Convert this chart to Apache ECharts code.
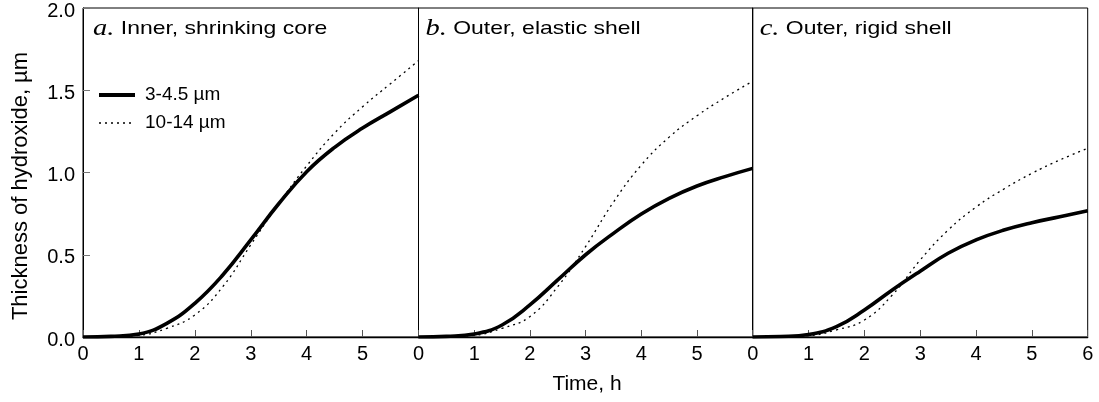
<!DOCTYPE html>
<html>
<head>
<meta charset="utf-8">
<script src="https://cdn.jsdelivr.net/npm/echarts@6/dist/echarts.min.js"></script>
<style>
html,body{margin:0;padding:0;background:#fff;}
#chart{width:1099px;height:402px;}
</style>
</head>
<body>
<div id="chart"></div>
<script>
// ---- data ----
var times = [0, 0.5, 1, 1.5, 2, 2.5, 3, 3.5, 4, 4.5, 5, 5.5, 6];
var seriesNames = ['3-4.5 µm', '10-14 µm'];
var panelTitles = [['a.', 'Inner, shrinking core'], ['b.', 'Outer, elastic shell'], ['c.', 'Outer, rigid shell']];
var xTickLabels = ['0', '1', '2', '3', '4', '5', '6'];
var yTickLabels = ['0.0', '0.5', '1.0', '1.5', '2.0'];
var aSmall = [0, 0.004, 0.018, 0.083, 0.205, 0.377, 0.59, 0.81, 1.005, 1.153, 1.27, 1.37, 1.47];
var aLarge = [0, 0.002, 0.010, 0.053, 0.134, 0.306, 0.56, 0.81, 1.04, 1.24, 1.40, 1.54, 1.68];
var bSmall = [0, 0.004, 0.018, 0.073, 0.195, 0.347, 0.50, 0.63, 0.748, 0.843, 0.918, 0.975, 1.025];
var bLarge = [0, 0.002, 0.010, 0.053, 0.124, 0.306, 0.55, 0.82, 1.045, 1.215, 1.345, 1.455, 1.555];
var cSmall = [0, 0.003, 0.015, 0.063, 0.164, 0.286, 0.40, 0.509, 0.59, 0.65, 0.695, 0.731, 0.768];
var cLarge = [0, 0.002, 0.008, 0.043, 0.103, 0.255, 0.468, 0.65, 0.79, 0.90, 0.995, 1.076, 1.147];
var yTitle = 'Thickness of hydroxide, µm';
var xTitle = 'Time, h';

// ---- build ----
function pairs(vals) { return times.map(function (t, i) { return [t, vals[i]]; }); }
var panels = [[aSmall, aLarge], [bSmall, bLarge], [cSmall, cLarge]];
var FONT = '"Liberation Sans", Arial, Helvetica, sans-serif';
var gridDefs = [
  {left: 83, width: 335.5},
  {left: 418.5, width: 334.2},
  {left: 752.7, width: 335}
];
var SOLID = {color: '#000', width: 3.6};
var DOTTED = {color: '#000', width: 1.3, type: [2, 4]};
var grids = [], xAxes = [], yAxes = [], series = [], graphics = [];
gridDefs.forEach(function (g, i) {
  grids.push({left: g.left, top: 8, width: g.width, height: 329, show: true,
    borderColor: '#000', borderWidth: 1, backgroundColor: 'transparent', containLabel: false});
  xAxes.push({
    type: 'value', gridIndex: i, min: 0, max: 6, interval: 1,
    axisLine: {show: true, lineStyle: {color: '#000', width: 1.3}},
    axisTick: {show: true, inside: true, length: 7, lineStyle: {color: '#555', width: 1}},
    axisLabel: {
      show: true, margin: 7, fontSize: 20, color: '#000', fontFamily: FONT,
      showMaxLabel: i === 2, showMinLabel: true,
      formatter: function (v) { return xTickLabels[Math.round(v)]; }
    },
    splitLine: {show: false}
  });
  yAxes.push({
    type: 'value', gridIndex: i, min: 0, max: 2, interval: 0.5,
    axisLine: {show: true, lineStyle: {color: '#000', width: 1}},
    axisTick: {show: i === 0, inside: true, length: 7, lineStyle: {color: '#777', width: 1}},
    axisLabel: {
      show: i === 0, margin: 8, fontSize: 20, color: '#000', fontFamily: FONT,
      formatter: function (v) { return '{p|' + yTickLabels[Math.round(v * 2)] + '}'; },
      rich: {p: {fontSize: 20, fontFamily: FONT, color: '#000', padding: [6, 0, 0, 0]}}
    },
    splitLine: {show: false}
  });
  series.push({
    name: seriesNames[0], type: 'line', xAxisIndex: i, yAxisIndex: i,
    data: pairs(panels[i][0]), smooth: 0.45, symbol: 'none', showSymbol: false,
    lineStyle: SOLID, itemStyle: {color: '#000'}, z: 3
  });
  series.push({
    name: seriesNames[1], type: 'line', xAxisIndex: i, yAxisIndex: i,
    data: pairs(panels[i][1]), smooth: 0.45, symbol: 'none', showSymbol: false,
    lineStyle: DOTTED, itemStyle: {color: '#000'}, z: 2
  });
  graphics.push({
    type: 'text', x: g.left + (i === 0 ? 10 : 7), y: 29, scaleX: 1.24, scaleY: 1,
    style: {
      text: '{i|' + panelTitles[i][0] + '} ' + panelTitles[i][1],
      font: '18.5px ' + FONT, fill: '#000', textAlign: 'left', textVerticalAlign: 'middle',
      rich: {i: {fontFamily: '"Liberation Serif", "Times New Roman", serif', fontStyle: 'italic', fontSize: 23, fill: '#000'}}
    }
  });
});
graphics.push({
  type: 'text', x: 21, y: 186, rotation: Math.PI / 2,
  style: {text: yTitle, font: '22px ' + FONT, fill: '#000', textAlign: 'center', textVerticalAlign: 'middle'}
});
graphics.push({
  type: 'text', x: 587, y: 384,
  style: {text: xTitle, font: '21px ' + FONT, fill: '#000', textAlign: 'center', textVerticalAlign: 'middle'}
});

var chart = echarts.init(document.getElementById('chart'), null, {renderer: 'canvas'});
chart.setOption({
  animation: false,
  backgroundColor: '#fff',
  grid: grids,
  xAxis: xAxes,
  yAxis: yAxes,
  legend: {
    data: [
      {name: seriesNames[0], lineStyle: {width: 4, color: '#000'}},
      {name: seriesNames[1], lineStyle: {width: 1.3, color: '#000', type: [2, 4]}}
    ],
    orient: 'vertical', left: 92, top: 80, padding: 5,
    itemWidth: 36, itemHeight: 14, itemGap: 8,
    itemStyle: {opacity: 0},
    textStyle: {fontSize: 19, color: '#000', fontFamily: FONT, lineHeight: 20, padding: [0, 0, 0, 5]}
  },
  graphic: graphics,
  series: series
});
</script>
</body>
</html>
